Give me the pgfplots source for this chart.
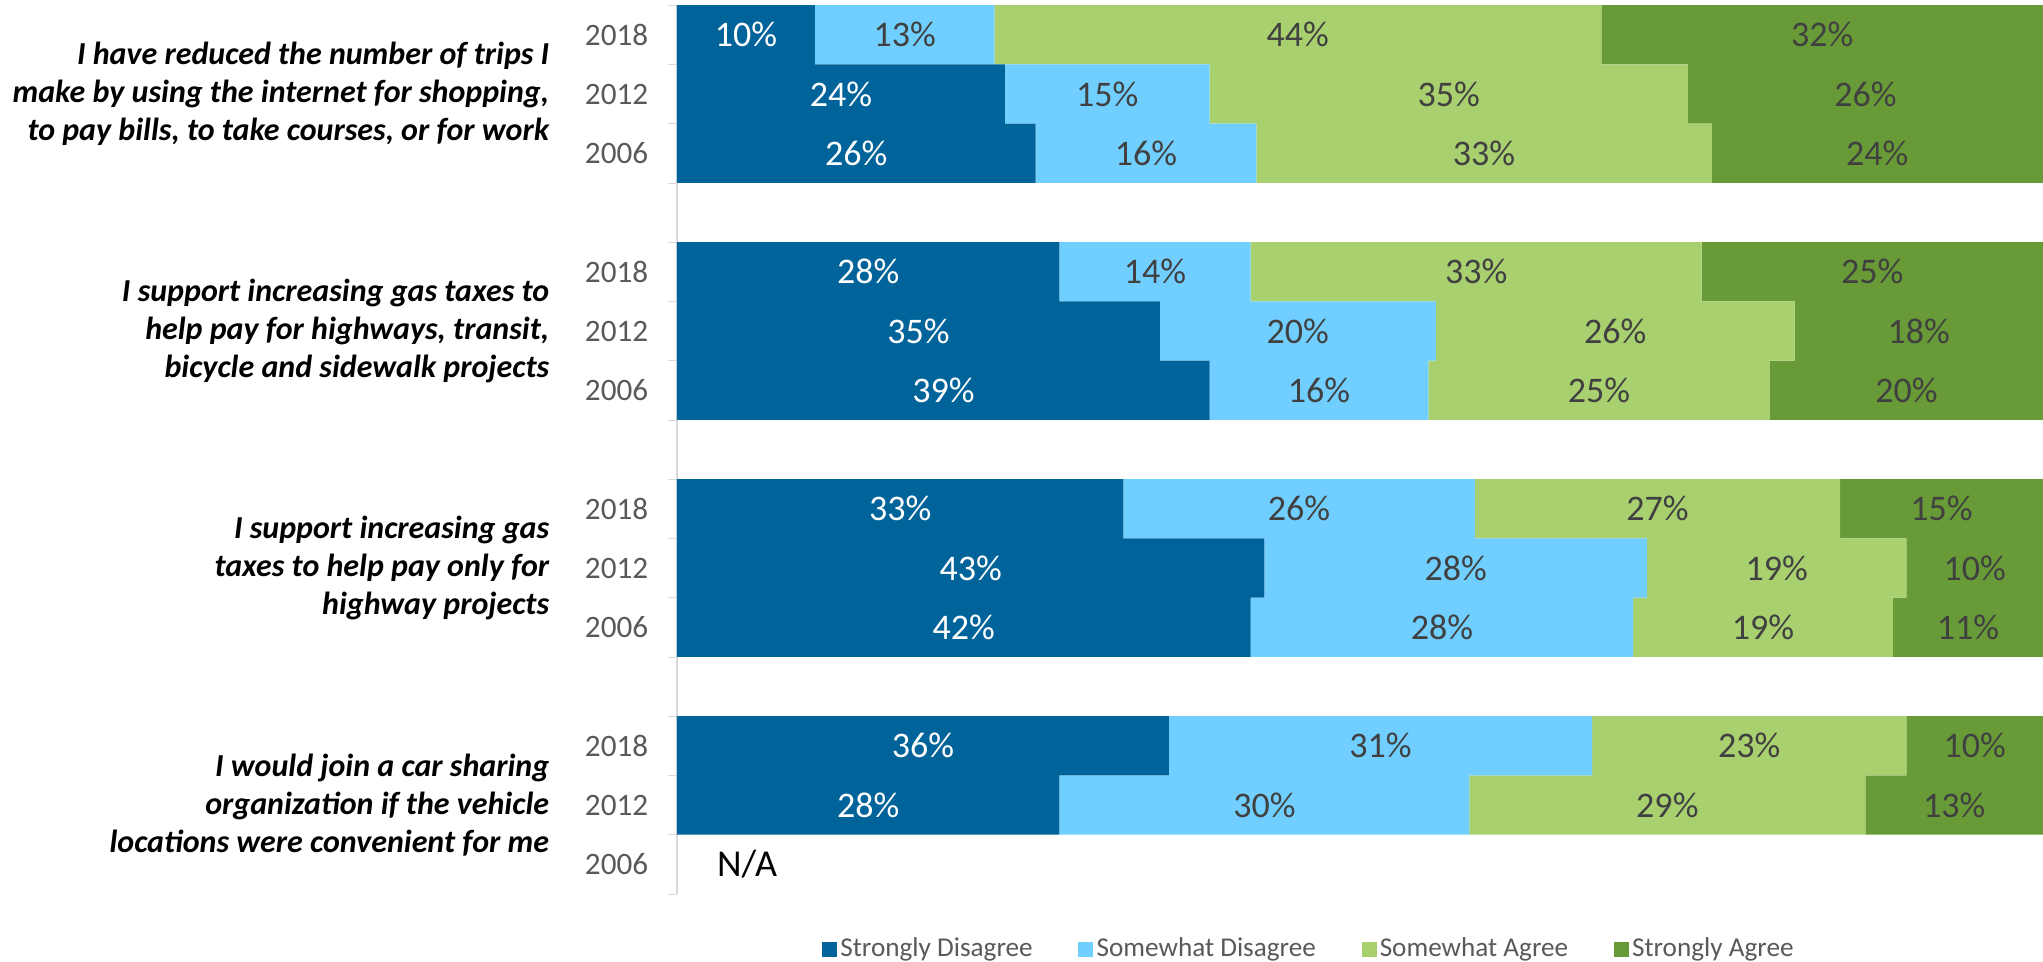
\documentclass[border=0pt]{standalone}
\usepackage{pgfplots}
\pgfplotsset{compat=1.18}
\usepackage{fontspec}
\setmainfont{Carlito}

\definecolor{sdis}{HTML}{00649A}
\definecolor{swdis}{HTML}{71CFFF}
\definecolor{swagr}{HTML}{A8D06F}
\definecolor{sagr}{HTML}{689A37}
\definecolor{lbl}{HTML}{404040}
\definecolor{tck}{HTML}{595959}

\begin{document}
\begin{tikzpicture}
\path[use as bounding box] (-169.25pt,-17pt) rectangle (341.5pt,223.5pt);
\begin{axis}[
    at={(0,0)}, anchor=south west,
    scale only axis,
    width=341.5pt, height=222.2pt,
    xbar stacked,
    bar width=1,
    xmin=0, xmax=100,
    ymin=-0.5, ymax=14.5,
    axis x line=none,
    axis y line*=left,
    axis line style={draw=black!15},
    clip=false,
    ytick={0,1,2,4,5,6,8,9,10,12,13,14},
    yticklabels={2006,2012,2018,2006,2012,2018,2006,2012,2018,2006,2012,2018},
    major tick length=0pt,
    yticklabel style={font=\fontsize{7.8}{9}\selectfont, text=tck, inner sep=0pt, xshift=-7pt},
    extra y ticks={-0.5,0.5,...,14.5},
    extra y tick labels={},
    extra y tick style={major tick length=2.2pt, tick align=outside, tick style={draw=black!15}},
    point meta=explicit symbolic,
    nodes near coords={\pgfplotspointmeta\%},
    every node near coord/.append style={font=\fontsize{9}{10}\selectfont, text=lbl},
    legend style={at={(0.463,-0.063)}, anchor=center, draw=none, fill=none,
        font=\fontsize{6.8}{8}\selectfont, text=tck, legend columns=4,
        nodes={inner sep=0.8pt},
        /tikz/every even column/.append style={column sep=10.6pt},
        inner sep=0pt, row sep=0pt},
    legend image code/.code={\fill[#1] (0pt,-1.875pt) rectangle (3.75pt,1.875pt);},
]
\addplot[fill=sdis, draw=none, every node near coord/.append style={text=white}] coordinates {
    (28,1) [28] (36,2) [36]
    (42,4) [42] (43,5) [43] (32.67,6) [33]
    (39,8) [39] (35.35,9) [35] (28,10) [28]
    (26.26,12) [26] (24,13) [24] (10.10,14) [10]
};
\addlegendentry{Strongly Disagree}
\addplot[fill=swdis, draw=none] coordinates {
    (30,1) [30] (31,2) [31]
    (28,4) [28] (28,5) [28] (25.74,6) [26]
    (16,8) [16] (20.20,9) [20] (14,10) [14]
    (16.16,12) [16] (15,13) [15] (13.13,14) [13]
};
\addlegendentry{Somewhat Disagree}
\addplot[fill=swagr, draw=none] coordinates {
    (29,1) [29] (23,2) [23]
    (19,4) [19] (19,5) [19] (26.73,6) [27]
    (25,8) [25] (26.26,9) [26] (33,10) [33]
    (33.33,12) [33] (35,13) [35] (44.44,14) [44]
};
\addlegendentry{Somewhat Agree}
\addplot[fill=sagr, draw=none] coordinates {
    (13,1) [13] (10,2) [10]
    (11,4) [11] (10,5) [10] (14.85,6) [15]
    (20,8) [20] (18.18,9) [18] (25,10) [25]
    (24.24,12) [24] (26,13) [26] (32.32,14) [32]
};
\addlegendentry{Strongly Agree}

\node[anchor=west, font=\fontsize{9.5}{10}\selectfont, text=black] at (axis cs:1.9,0) {N/A};

\tikzset{qlab/.style={anchor=east, align=right, xshift=-31.75pt, inner sep=0pt,
    font=\bfseries\itshape\fontsize{8}{9.5}\selectfont}}
\node[qlab] at (axis cs:0,13) {I have reduced the number of trips I\\make by using the internet for shopping,\\to pay bills, to take courses, or for work};
\node[qlab] at (axis cs:0,9) {I support increasing gas taxes to\\help pay for highways, transit,\\bicycle and sidewalk projects};
\node[qlab] at (axis cs:0,5) {I support increasing gas\\taxes to help pay only for\\highway projects};
\node[qlab] at (axis cs:0,1) {I would join a car sharing\\organization if the vehicle\\locations were convenient for me};
\end{axis}
\end{tikzpicture}
\end{document}
